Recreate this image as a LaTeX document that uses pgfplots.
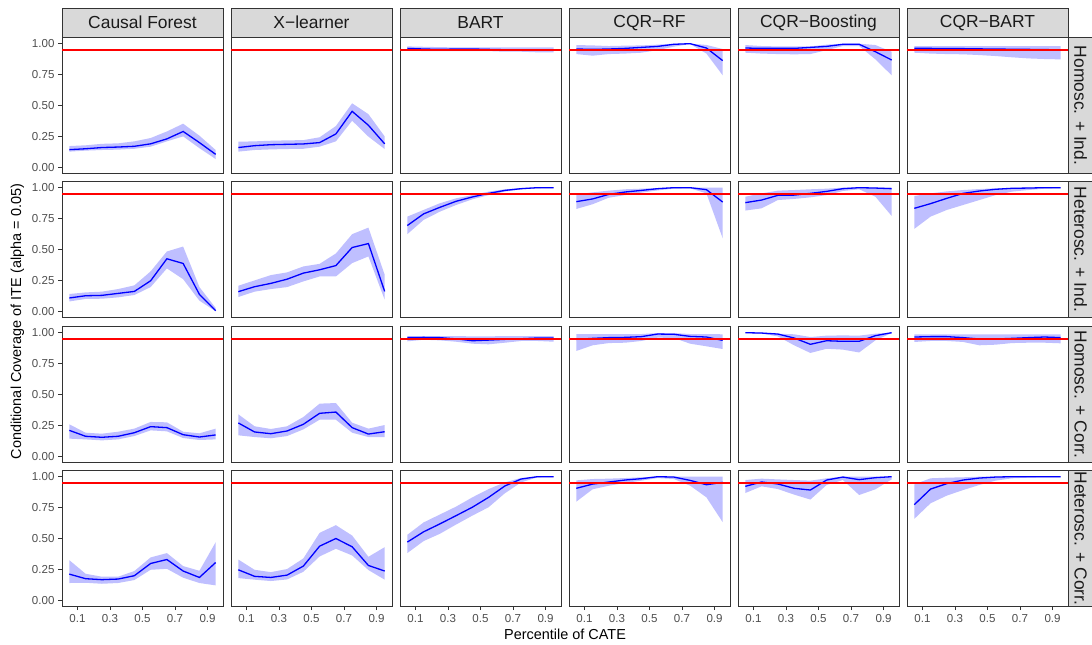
\documentclass[border=0pt]{standalone}
\usepackage{pgfplots}
\pgfplotsset{compat=1.18}
\usepackage{pgfplotstable}
\usepackage{fontspec}
\setmainfont{Liberation Sans}
\definecolor{grey20}{HTML}{333333}
\definecolor{grey30}{HTML}{4D4D4D}
\definecolor{grey10}{HTML}{1A1A1A}
\definecolor{grey85}{HTML}{D9D9D9}
\definecolor{ribbon}{HTML}{BFBFFF}
\definecolor{pureblue}{HTML}{0000FF}
\definecolor{purered}{HTML}{FF0000}
\newcommand\mn{\char"2212\relax}

% x y lo hi
\pgfplotstableread{
x y lo hi
0.05 0.143 0.127 0.172
0.15 0.150 0.135 0.178
0.25 0.160 0.140 0.190
0.35 0.164 0.143 0.194
0.45 0.170 0.150 0.210
0.55 0.190 0.167 0.237
0.65 0.230 0.210 0.290
0.75 0.290 0.250 0.353
0.85 0.200 0.155 0.256
0.95 0.105 0.067 0.140
}\CFa
\pgfplotstableread{
x y lo hi
0.05 0.160 0.127 0.207
0.15 0.175 0.140 0.210
0.25 0.183 0.145 0.215
0.35 0.186 0.148 0.218
0.45 0.189 0.150 0.220
0.55 0.200 0.167 0.243
0.65 0.270 0.210 0.334
0.75 0.453 0.377 0.518
0.85 0.340 0.248 0.430
0.95 0.190 0.148 0.250
}\XLa
\pgfplotstableread{
x y lo hi
0.05 0.962 0.945 0.978
0.15 0.957 0.940 0.975
0.25 0.954 0.940 0.972
0.35 0.957 0.940 0.970
0.45 0.957 0.940 0.970
0.55 0.954 0.940 0.970
0.65 0.951 0.935 0.970
0.75 0.951 0.935 0.970
0.85 0.951 0.930 0.970
0.95 0.951 0.930 0.970
}\BAa
\pgfplotstableread{
x y lo hi
0.05 0.957 0.916 0.989
0.15 0.954 0.903 0.986
0.25 0.957 0.916 0.981
0.35 0.962 0.920 0.984
0.45 0.970 0.927 0.986
0.55 0.978 0.948 0.992
0.65 0.995 0.976 1.000
0.75 1.000 0.997 1.000
0.85 0.965 0.920 0.990
0.95 0.863 0.744 0.957
}\RFa
\pgfplotstableread{
x y lo hi
0.05 0.965 0.927 0.989
0.15 0.962 0.920 0.981
0.25 0.962 0.916 0.978
0.35 0.962 0.914 0.978
0.45 0.970 0.916 0.978
0.55 0.978 0.948 0.992
0.65 0.995 0.981 1.000
0.75 0.995 0.981 1.000
0.85 0.935 0.873 0.989
0.95 0.868 0.744 0.935
}\BOa
\pgfplotstableread{
x y lo hi
0.05 0.962 0.927 0.981
0.15 0.962 0.920 0.981
0.25 0.960 0.916 0.981
0.35 0.960 0.914 0.981
0.45 0.958 0.908 0.981
0.55 0.957 0.900 0.981
0.65 0.955 0.890 0.981
0.75 0.954 0.881 0.981
0.85 0.952 0.876 0.981
0.95 0.951 0.873 0.981
}\CBa
\pgfplotstableread{
x y lo hi
0.05 0.108 0.080 0.140
0.15 0.126 0.100 0.153
0.25 0.129 0.102 0.159
0.35 0.145 0.113 0.180
0.45 0.161 0.132 0.210
0.55 0.247 0.196 0.323
0.65 0.425 0.347 0.484
0.75 0.387 0.260 0.524
0.85 0.137 0.086 0.196
0.95 0.005 0.000 0.027
}\CFb
\pgfplotstableread{
x y lo hi
0.05 0.159 0.116 0.207
0.15 0.199 0.159 0.250
0.25 0.226 0.180 0.293
0.35 0.260 0.196 0.315
0.45 0.309 0.242 0.363
0.55 0.336 0.282 0.384
0.65 0.370 0.282 0.468
0.75 0.516 0.390 0.624
0.85 0.548 0.444 0.677
0.95 0.161 0.094 0.296
}\XLb
\pgfplotstableread{
x y lo hi
0.05 0.694 0.624 0.766
0.15 0.788 0.739 0.820
0.25 0.841 0.806 0.874
0.35 0.890 0.860 0.914
0.45 0.925 0.906 0.940
0.55 0.954 0.940 0.968
0.65 0.978 0.968 0.987
0.75 0.992 0.987 0.997
0.85 1.000 0.995 1.000
0.95 1.000 0.997 1.000
}\BAb
\pgfplotstableread{
x y lo hi
0.05 0.887 0.828 0.946
0.15 0.909 0.866 0.962
0.25 0.946 0.919 0.976
0.35 0.965 0.940 0.987
0.45 0.978 0.960 0.992
0.55 0.992 0.978 0.997
0.65 1.000 0.992 1.000
0.75 1.000 0.995 1.000
0.85 0.984 0.954 1.000
0.95 0.884 0.591 1.000
}\RFb
\pgfplotstableread{
x y lo hi
0.05 0.879 0.815 0.927
0.15 0.900 0.833 0.954
0.25 0.938 0.900 0.976
0.35 0.940 0.909 0.981
0.45 0.954 0.922 0.987
0.55 0.970 0.940 0.992
0.65 0.992 0.973 1.000
0.75 1.000 0.987 1.000
0.85 0.997 0.927 1.000
0.95 0.992 0.771 1.000
}\BOb
\pgfplotstableread{
x y lo hi
0.05 0.833 0.667 0.933
0.15 0.871 0.766 0.954
0.25 0.914 0.820 0.970
0.35 0.954 0.860 0.981
0.45 0.973 0.900 0.989
0.55 0.987 0.940 0.995
0.65 0.995 0.968 0.997
0.75 0.997 0.981 1.000
0.85 1.000 0.992 1.000
0.95 1.000 0.995 1.000
}\CBb
\pgfplotstableread{
x y lo hi
0.05 0.210 0.143 0.259
0.15 0.162 0.137 0.191
0.25 0.154 0.129 0.183
0.35 0.162 0.137 0.199
0.45 0.191 0.164 0.224
0.55 0.240 0.210 0.278
0.65 0.232 0.202 0.275
0.75 0.175 0.148 0.199
0.85 0.156 0.132 0.186
0.95 0.173 0.137 0.224
}\CFc
\pgfplotstableread{
x y lo hi
0.05 0.270 0.170 0.340
0.15 0.197 0.156 0.243
0.25 0.183 0.146 0.221
0.35 0.205 0.164 0.243
0.45 0.259 0.218 0.318
0.55 0.348 0.296 0.426
0.65 0.358 0.296 0.431
0.75 0.232 0.191 0.272
0.85 0.180 0.156 0.224
0.95 0.199 0.156 0.253
}\XLc
\pgfplotstableread{
x y lo hi
0.05 0.960 0.930 0.973
0.15 0.962 0.943 0.973
0.25 0.960 0.938 0.973
0.35 0.950 0.927 0.973
0.45 0.935 0.911 0.970
0.55 0.940 0.906 0.970
0.65 0.946 0.919 0.973
0.75 0.951 0.933 0.973
0.85 0.957 0.933 0.973
0.95 0.957 0.927 0.973
}\BAc
\pgfplotstableread{
x y lo hi
0.05 0.946 0.852 0.989
0.15 0.954 0.898 0.989
0.25 0.960 0.916 0.989
0.35 0.962 0.919 0.989
0.45 0.968 0.933 0.989
0.55 0.989 0.960 0.997
0.65 0.987 0.957 0.997
0.75 0.970 0.911 0.989
0.85 0.965 0.890 0.989
0.95 0.938 0.868 0.987
}\RFc
\pgfplotstableread{
x y lo hi
0.05 1.000 0.997 1.000
0.15 0.997 0.992 1.000
0.25 0.989 0.970 0.992
0.35 0.957 0.898 0.987
0.45 0.906 0.836 0.965
0.55 0.935 0.870 0.976
0.65 0.930 0.863 0.978
0.75 0.930 0.840 0.976
0.85 0.976 0.938 0.992
0.95 1.000 0.997 1.000
}\BOc
\pgfplotstableread{
x y lo hi
0.05 0.965 0.925 0.987
0.15 0.968 0.933 0.987
0.25 0.968 0.933 0.987
0.35 0.960 0.925 0.987
0.45 0.949 0.898 0.987
0.55 0.949 0.903 0.987
0.65 0.954 0.916 0.987
0.75 0.960 0.919 0.987
0.85 0.965 0.919 0.987
0.95 0.960 0.914 0.987
}\CBc
\pgfplotstableread{
x y lo hi
0.05 0.212 0.140 0.325
0.15 0.175 0.142 0.215
0.25 0.167 0.134 0.191
0.35 0.172 0.140 0.191
0.45 0.199 0.164 0.237
0.55 0.298 0.247 0.347
0.65 0.330 0.255 0.382
0.75 0.237 0.183 0.277
0.85 0.185 0.140 0.239
0.95 0.306 0.121 0.470
}\CFd
\pgfplotstableread{
x y lo hi
0.05 0.247 0.180 0.330
0.15 0.194 0.167 0.247
0.25 0.185 0.156 0.228
0.35 0.204 0.169 0.253
0.45 0.277 0.231 0.339
0.55 0.438 0.355 0.546
0.65 0.500 0.417 0.608
0.75 0.433 0.363 0.524
0.85 0.282 0.245 0.352
0.95 0.237 0.167 0.430
}\XLd
\pgfplotstableread{
x y lo hi
0.05 0.471 0.382 0.530
0.15 0.554 0.479 0.630
0.25 0.618 0.538 0.694
0.35 0.685 0.613 0.758
0.45 0.753 0.685 0.833
0.55 0.833 0.753 0.900
0.65 0.925 0.866 0.954
0.75 0.981 0.954 0.990
0.85 1.000 0.995 1.000
0.95 1.000 0.997 1.000
}\BAd
\pgfplotstableread{
x y lo hi
0.05 0.906 0.798 0.970
0.15 0.940 0.898 0.981
0.25 0.957 0.927 0.984
0.35 0.973 0.949 0.989
0.45 0.984 0.968 0.995
0.55 1.000 0.989 1.000
0.65 0.997 0.981 1.000
0.75 0.970 0.927 1.000
0.85 0.935 0.833 1.000
0.95 0.954 0.632 1.000
}\RFd
\pgfplotstableread{
x y lo hi
0.05 0.922 0.868 0.973
0.15 0.957 0.922 0.984
0.25 0.941 0.900 0.978
0.35 0.906 0.855 0.973
0.45 0.892 0.815 0.968
0.55 0.973 0.933 0.987
0.65 0.997 0.973 1.000
0.75 0.976 0.852 1.000
0.85 0.992 0.898 1.000
0.95 1.000 0.978 1.000
}\BOd
\pgfplotstableread{
x y lo hi
0.05 0.774 0.659 0.938
0.15 0.900 0.785 0.987
0.25 0.944 0.847 0.992
0.35 0.973 0.892 0.995
0.45 0.989 0.933 1.000
0.55 0.997 0.968 1.000
0.65 1.000 0.987 1.000
0.75 1.000 0.992 1.000
0.85 1.000 0.995 1.000
0.95 1.000 0.995 1.000
}\CBd

\pgfplotsset{
  base/.style={
    scale only axis, width=161bp, height=136bp,
    anchor=north west,
    xmin=0.005, xmax=0.995, ymin=-0.05, ymax=1.05,
    axis line style={draw=grey20, line width=0.9bp},
    tick style={draw=grey20, line width=0.9bp},
    tick align=outside, major tick length=3.5bp,
    xtick pos=bottom, ytick pos=left,
    xtick=\empty, ytick=\empty,
    ticklabel style={font=\fontsize{11.6}{13}\selectfont, text=grey30},
    xticklabel style={yshift=-0.5bp},
    yticklabel style={xshift=-0.5bp},
  },
  firstcol/.style={ytick={0,0.25,0.5,0.75,1}, yticklabels={0.00,0.25,0.50,0.75,1.00}},
  lastrow/.style={xtick={0.1,0.3,0.5,0.7,0.9}, xticklabels={0.1,0.3,0.5,0.7,0.9}},
}

\newcommand\pan[4]{%
\begin{axis}[base, at={(#1bp,-#2bp)}, #4]
\addplot[draw=none, stack plots=y, forget plot] table[x=x,y=lo]{#3};
\addplot[fill=ribbon, draw=none, stack plots=y] table[x=x,y expr=\thisrow{hi}-\thisrow{lo}]{#3} \closedcycle;
\addplot[pureblue, line width=1.3bp, stack plots=false] table[x=x,y=y]{#3};
\addplot[purered, line width=1.4bp, stack plots=false] coordinates {(0.005,0.95) (0.995,0.95)};
\end{axis}}

\newcommand\topstrip[2]{%
\draw[fill=grey85, draw=grey20, line width=0.9bp] ({#1*1bp},-8bp) rectangle ({(#1+161)*1bp},-37.5bp);
\node[text=grey10, font=\fontsize{17.5}{20}\selectfont] at ({(#1+80.5)*1bp},-22.7bp) {#2};}

\newcommand\sidestrip[2]{%
\begin{scope}
\draw[fill=grey85, draw=grey20, line width=0.9bp] (1068bp,{-#1*1bp}) rectangle (1093bp,{-(#1+136)*1bp});
\clip (1068bp,{-#1*1bp}) rectangle (1093bp,{-(#1+136)*1bp});
\node[text=grey10, rotate=-90, font=\fontsize{17.5}{20}\selectfont] at (1080.5bp,{-(#1+68)*1bp}) {#2};
\end{scope}}

\begin{document}
\begin{tikzpicture}
% row 1
\pan{62}{37.5}{\CFa}{firstcol}
\pan{231}{37.5}{\XLa}{}
\pan{400}{37.5}{\BAa}{}
\pan{569}{37.5}{\RFa}{}
\pan{738}{37.5}{\BOa}{}
\pan{907}{37.5}{\CBa}{}
% row 2
\pan{62}{181.5}{\CFb}{firstcol}
\pan{231}{181.5}{\XLb}{}
\pan{400}{181.5}{\BAb}{}
\pan{569}{181.5}{\RFb}{}
\pan{738}{181.5}{\BOb}{}
\pan{907}{181.5}{\CBb}{}
% row 3
\pan{62}{326.5}{\CFc}{firstcol}
\pan{231}{326.5}{\XLc}{}
\pan{400}{326.5}{\BAc}{}
\pan{569}{326.5}{\RFc}{}
\pan{738}{326.5}{\BOc}{}
\pan{907}{326.5}{\CBc}{}
% row 4
\pan{62}{470.5}{\CFd}{firstcol,lastrow}
\pan{231}{470.5}{\XLd}{lastrow}
\pan{400}{470.5}{\BAd}{lastrow}
\pan{569}{470.5}{\RFd}{lastrow}
\pan{738}{470.5}{\BOd}{lastrow}
\pan{907}{470.5}{\CBd}{lastrow}

\topstrip{62}{Causal Forest}
\topstrip{231}{X\mn learner}
\topstrip{400}{BART}
\topstrip{569}{CQR\mn RF}
\topstrip{738}{CQR\mn Boosting}
\topstrip{907}{CQR\mn BART}

\sidestrip{37.5}{Homosc. + Ind.}
\sidestrip{181.5}{Heterosc. + Ind.}
\sidestrip{326.5}{Homosc. + Corr.}
\sidestrip{470.5}{Heterosc. + Corr.}

\node[rotate=90, font=\fontsize{14.5}{17}\selectfont] at (17.5bp,-321.5bp) {Conditional Coverage of ITE (alpha = 0.05)};
\node[font=\fontsize{14.5}{17}\selectfont] at (565bp,-634bp) {Percentile of CATE};
\pgfresetboundingbox
\useasboundingbox (0,0) rectangle (1092bp,-645bp);
\end{tikzpicture}
\end{document}
